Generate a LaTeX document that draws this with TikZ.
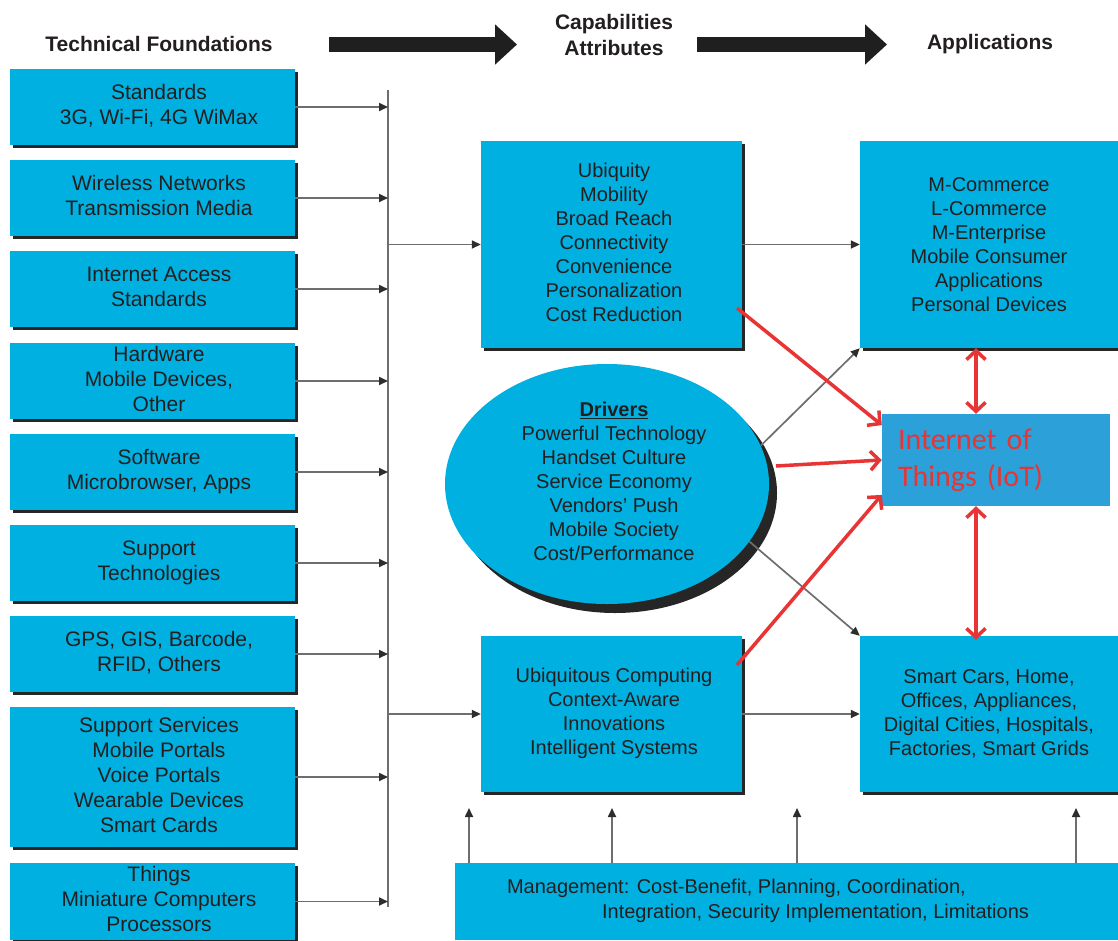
\documentclass[tikz,border=0pt]{standalone}
\usepackage{fontspec}
\setmainfont{Liberation Sans}
\newfontfamily\calib{Carlito}
\usetikzlibrary{arrows.meta,shapes.geometric}
\definecolor{boxc}{RGB}{0,176,224}
\definecolor{iotc}{RGB}{44,160,216}
\definecolor{txtc}{RGB}{35,31,32}
\definecolor{redc}{RGB}{232,52,52}
\definecolor{shc}{RGB}{38,38,38}
\definecolor{linec}{RGB}{110,110,110}
\definecolor{tipc}{RGB}{45,45,45}
\newcommand\ltxt[1]{\hspace*{13pt}\begin{tabular}{@{}c@{}}#1\end{tabular}}
\newcommand\etxt[1]{\hspace*{14pt}\begin{tabular}{@{}c@{}}#1\end{tabular}}
\begin{document}
\begin{tikzpicture}[x=1pt,y=-1pt,
  every node/.style={text=txtc, font=\fontsize{20}{24}\selectfont},
  bx/.style={fill=boxc, inner sep=0pt, align=center,
    preaction={fill=shc, transform canvas={xshift=2.5pt,yshift=-2.5pt}}},
  lbox/.style={bx, minimum width=285pt, font=\fontsize{21}{25}\selectfont},
  mbox/.style={bx, minimum width=261pt},
  rbox/.style={bx, minimum width=258pt},
  ttl/.style={font=\fontsize{21}{26}\selectfont\bfseries, align=center, inner sep=0pt},
  garrow/.style={draw=linec, line width=1.7pt, -{Triangle[length=9pt,width=8pt,color=tipc]}},
  busline/.style={draw=linec, line width=1.8pt},
  bigarr/.style={draw=black!88, line width=15pt, -{Triangle[length=22pt,width=39pt]}},
  redarr/.style={draw=redc, line width=3.5pt, -{Straight Barb[length=9pt,width=19pt]}},
  redboth/.style={draw=redc, line width=3.5pt, {Straight Barb[length=9pt,width=19pt]}-{Straight Barb[length=9pt,width=19pt]}}
]
\useasboundingbox (0,0) rectangle (1118,940);
\fill[white] (0,0) rectangle (1118,940);

% titles and big arrows
\node[ttl] (tf) at (159,44) {Technical Foundations};
\node[ttl] (cap) at (614,35) {Capabilities\\Attributes};
\node[ttl] (app) at (990,44) {Applications};
\coordinate (a1s) at (329,44.5);
\coordinate (a1e) at (517,44.5);
\coordinate (a2s) at (697,44.5);
\coordinate (a2e) at (887,44.5);
\draw[bigarr] (a1s) -- (a1e);
\draw[bigarr] (a2s) -- (a2e);

% left column
\node[lbox, minimum height=76pt] (s1) at (152.5,107) {\ltxt{Standards\\3G, Wi-Fi, 4G WiMax}};
\node[lbox, minimum height=76pt] (s2) at (152.5,198) {\ltxt{Wireless Networks\\Transmission Media}};
\node[lbox, minimum height=76pt] (s3) at (152.5,289) {\ltxt{Internet Access\\Standards}};
\node[lbox, minimum height=76pt] (s4) at (152.5,381) {\ltxt{Hardware\\Mobile Devices,\\Other}};
\node[lbox, minimum height=76pt] (s5) at (152.5,472) {\ltxt{Software\\Microbrowser, Apps}};
\node[lbox, minimum height=76pt] (s6) at (152.5,563) {\ltxt{Support\\Technologies}};
\node[lbox, minimum height=76pt] (s7) at (152.5,654) {\ltxt{GPS, GIS, Barcode,\\RFID, Others}};
\node[lbox, minimum height=140pt] (s8) at (152.5,777) {\ltxt{Support Services\\Mobile Portals\\Voice Portals\\Wearable Devices\\Smart Cards}};
\node[lbox, minimum height=77pt] (s9) at (152.5,901.5) {\ltxt{Things\\Miniature Computers\\Processors}};

% middle and right
\node[mbox, minimum height=207pt] (m1) at (611.5,244.5) {\etxt{Ubiquity\\Mobility\\Broad Reach\\Connectivity\\Convenience\\Personalization\\Cost Reduction}\hspace*{9pt}};
\node[mbox, minimum height=156pt] (m2) at (611.5,714) {\etxt{Ubiquitous Computing\\Context-Aware\\Innovations\\Intelligent Systems}\hspace*{9pt}};
\node[rbox, minimum height=207pt] (rt) at (989,244.5) {M-Commerce\\L-Commerce\\M-Enterprise\\Mobile Consumer\\Applications\\Personal Devices};
\node[rbox, minimum height=156pt] (rb) at (989,714) {Smart Cars, Home,\\Offices, Appliances,\\Digital Cities, Hospitals,\\Factories, Smart Grids};

% management
\node[fill=boxc, inner sep=0pt, minimum width=663pt, minimum height=77pt] (mg) at (786.5,901.5) {};
\node[align=left, inner sep=0pt, font=\fontsize{20}{25}\selectfont] (mgt) at (768,900.5) {Management: Cost-Benefit, Planning, Coordination,\\\hspace*{95pt}Integration, Security Implementation, Limitations};

% drivers ellipse
\node[ellipse, fill=boxc, inner sep=0pt, minimum width=324pt, minimum height=240pt,
  preaction={fill=shc, transform canvas={xshift=8pt,yshift=-9pt}}] (ell) at (607,484)
  {\etxt{\underline{\textbf{Drivers}}\\Powerful Technology\\Handset Culture\\Service Economy\\Vendors' Push\\Mobile Society\\Cost/Performance}};

% IoT
\node[fill=iotc, inner xsep=16pt, inner ysep=0pt, minimum width=228pt, minimum height=92pt, text width=196pt, align=left,
  text=redc, font=\calib\fontsize{30}{37}\selectfont] (iot) at (996,460) {Internet of\\Things (IoT)};

% bus and gray connectors
\coordinate (bt) at (388,90);
\coordinate (bb) at (388,907);
\draw[busline] (bt) -- (bb);
\foreach \n in {s1,s2,s3,s4,s5,s6,s7,s8,s9} {\draw[garrow] (\n.east) -- (\n.east -| bt);}
\draw[garrow] (m1.west -| bt) -- (m1.west);
\draw[garrow] (m2.west -| bt) -- (m2.west);
\draw[garrow] (m1.east) -- (rt.west);
\draw[garrow] (m2.east) -- (rb.west);
\draw[garrow] (ell.14) -- (rt.south west);
\draw[garrow] (ell.-22) -- (rb.north west);

\coordinate (u1) at (469,808);
\coordinate (u2) at (612,808);
\coordinate (u3) at (797,808);
\coordinate (u4) at (1076,808);
\foreach \u in {u1,u2,u3,u4} {\draw[garrow] (mg.north -| \u) -- (\u);}

% red connectors
\coordinate (r1) at (737,308);
\coordinate (r2) at (776,466);
\coordinate (r3) at (737,665);
\coordinate (dx) at (976,0);
\draw[redarr] (r1) -- (iot.163);
\draw[redarr] (r2) -- (iot.west);
\draw[redarr] (r3) -- (iot.197);
\draw[redboth] (rt.south -| dx) -- (iot.north -| dx);
\draw[redboth, shorten >=-4pt] (iot.south -| dx) -- (rb.north -| dx);
\end{tikzpicture}
\end{document}
